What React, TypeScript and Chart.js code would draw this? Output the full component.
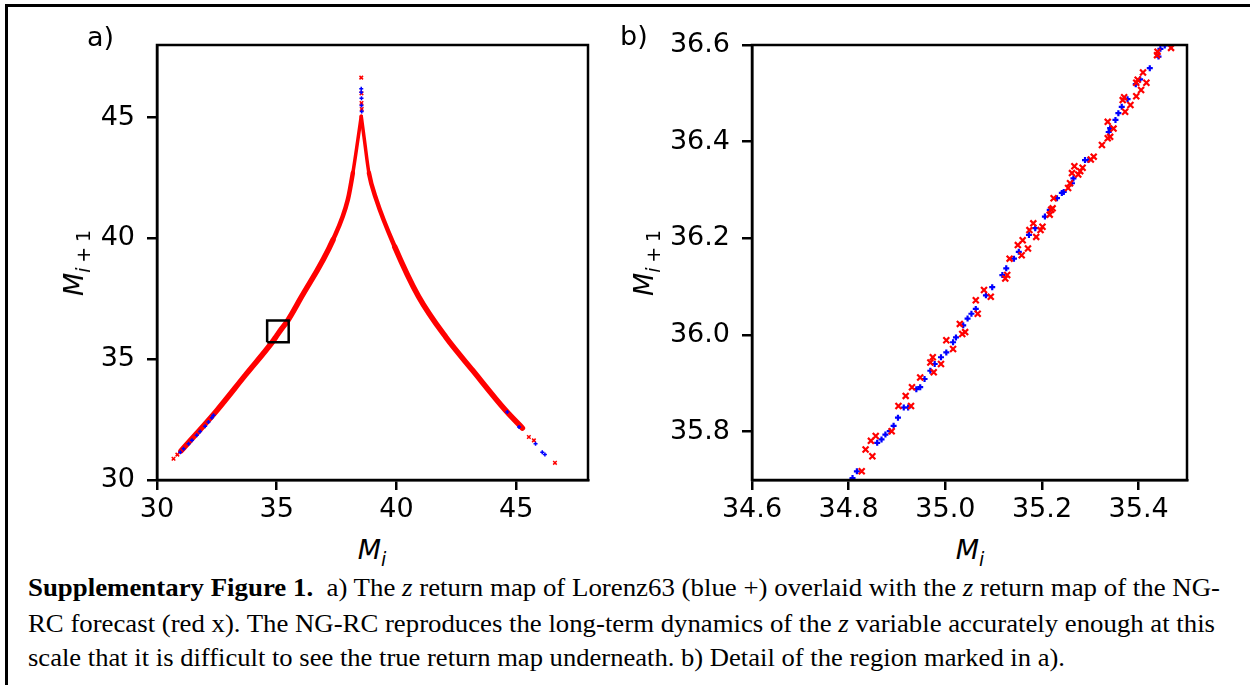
import React, { useEffect, useLayoutEffect, useRef } from "react";
import { Chart, registerables } from "chart.js";

Chart.register(...registerables);

// ---------------- Panel a data (z return map, full view) ----------------
const aXRange = [30, 48];
const aYRange = [30, 48];
const aXTicks = [30, 35, 40, 45];
const aYTicks = [30, 35, 40, 45];

// dense NG-RC forecast band (red), left and right branches
const aRedLeftX = [31.0, 32.5, 33.69, 34.81, 35.0, 35.2, 35.45, 35.96, 37.35, 37.97, 38.18, 38.39, 38.53];
const aRedLeftY = [31.2, 32.88, 34.34, 35.7, 35.97, 36.25, 36.58, 37.45, 39.94, 41.6, 42.71, 44.09, 45.05];
const aRedRightX = [38.53, 38.66, 38.85, 39.16, 39.93, 40.92, 42.07, 43.18, 44.56, 45.26];
const aRedRightY = [45.05, 44.09, 42.71, 41.6, 39.65, 37.6, 35.9, 34.54, 32.88, 32.15];
// sparse red x markers (tails and cusp tip)
const aRedDotX = [30.69, 30.85, 45.53, 45.74, 46.62, 38.53, 38.54, 38.54, 38.55];
const aRedDotY = [30.88, 31.05, 31.78, 31.64, 30.71, 46.65, 46.0, 45.6, 45.35];
// visible Lorenz63 + markers (blue)
const aBlueX = [30.97, 31.11, 31.32, 31.46, 31.66, 31.8, 32.01, 32.15, 32.29, 32.36, 44.63, 45.12, 45.81, 46.09, 46.2, 38.53, 38.53, 38.54, 38.54, 38.55];
const aBlueY = [31.15, 31.29, 31.5, 31.64, 31.85, 32.01, 32.22, 32.4, 32.58, 32.68, 32.81, 32.19, 31.5, 31.15, 31.06, 46.19, 46.05, 45.8, 45.5, 45.25];

// region shown in panel b
const boxX = [34.6, 35.5, 35.5, 34.6, 34.6];
const boxY = [35.7, 35.7, 36.6, 36.6, 35.7];

// ---------------- Panel b data (detail) ----------------
const bXRange = [34.6, 35.5];
const bYRange = [35.7, 36.6];
const bXTicks = [34.6, 34.8, 35.0, 35.2, 35.4];
const bYTicks = [35.8, 36.0, 36.2, 36.4, 36.6];

const bBlueX = [34.804, 34.808, 34.817, 34.859, 34.868, 34.876, 34.885, 34.893, 34.902, 34.914, 34.923, 34.94, 34.948, 34.957, 34.969, 34.978, 34.991, 35.002, 35.016, 35.022, 35.037, 35.046, 35.054, 35.063, 35.084, 35.097, 35.118, 35.126, 35.142, 35.152, 35.173, 35.186, 35.206, 35.216, 35.231, 35.241, 35.245, 35.262, 35.265, 35.289, 35.296, 35.338, 35.341, 35.352, 35.358, 35.365, 35.377, 35.394, 35.403, 35.423, 35.441, 35.445, 35.454];
const bBlueY = [35.697, 35.704, 35.718, 35.777, 35.784, 35.794, 35.801, 35.812, 35.829, 35.85, 35.85, 35.888, 35.892, 35.909, 35.926, 35.94, 35.954, 35.964, 35.985, 35.995, 36.02, 36.034, 36.044, 36.054, 36.082, 36.099, 36.124, 36.138, 36.158, 36.172, 36.207, 36.221, 36.245, 36.259, 36.283, 36.294, 36.296, 36.314, 36.324, 36.362, 36.362, 36.42, 36.428, 36.445, 36.459, 36.472, 36.488, 36.519, 36.529, 36.552, 36.576, 36.592, 36.599];

const bRedX = [34.827, 34.835, 34.849, 34.846, 34.856, 34.889, 34.903, 34.918, 34.929, 34.931, 34.948, 34.969, 34.974, 34.976, 34.991, 35.002, 35.016, 35.03, 35.035, 35.041, 35.063, 35.067, 35.08, 35.094, 35.124, 35.128, 35.133, 35.15, 35.158, 35.16, 35.171, 35.174, 35.182, 35.188, 35.197, 35.201, 35.216, 35.219, 35.224, 35.222, 35.254, 35.258, 35.262, 35.267, 35.275, 35.279, 35.284, 35.301, 35.307, 35.324, 35.336, 35.341, 35.336, 35.348, 35.367, 35.37, 35.372, 35.383, 35.395, 35.395, 35.398, 35.405, 35.409, 35.416, 35.438, 35.439, 35.467];
const bRedY = [35.718, 35.763, 35.749, 35.781, 35.791, 35.801, 35.853, 35.874, 35.853, 35.892, 35.912, 35.943, 35.954, 35.923, 35.94, 35.989, 35.971, 36.023, 36.002, 36.006, 36.072, 36.044, 36.093, 36.079, 36.117, 36.124, 36.158, 36.186, 36.165, 36.196, 36.179, 36.217, 36.231, 36.203, 36.217, 36.224, 36.249, 36.259, 36.283, 36.262, 36.304, 36.314, 36.335, 36.349, 36.332, 36.339, 36.346, 36.363, 36.369, 36.393, 36.407, 36.41, 36.441, 36.427, 36.486, 36.492, 36.462, 36.476, 36.494, 36.522, 36.528, 36.507, 36.543, 36.522, 36.579, 36.586, 36.594];

// ---------------- Caption ----------------
const captionWidths = [1192, 1187, 1037];

const RED = "#ff0000";
const BLUE = "#0000ff";

const pts = (xs: number[], ys: number[]) => xs.map((x, i) => ({ x, y: ys[i] }));

const framePlugin = {
  id: "frame",
  afterDatasetsDraw(chart: any) {
    const { ctx, chartArea } = chart;
    const { left, top, right, bottom } = chartArea;
    ctx.save();
    ctx.strokeStyle = "#000";
    ctx.lineWidth = 2.5;
    ctx.strokeRect(left, top, right - left, bottom - top);
    ctx.restore();
  },
};

function makeScale(axis: "x" | "y", range: number[], ticks: number[], decimals: number, fit: number, pad: number) {
  return {
    type: "linear",
    position: axis === "x" ? "bottom" : "left",
    min: range[0],
    max: range[1],
    afterBuildTicks: (s: any) => {
      s.ticks = ticks.map((v) => ({ value: v }));
    },
    afterFit: (s: any) => {
      if (axis === "x") s.height = fit;
      else s.width = fit;
    },
    grid: {
      display: true,
      drawOnChartArea: false,
      drawTicks: true,
      tickLength: 10,
      lineWidth: 2.5,
      color: "#000",
    },
    border: { display: true, color: "#000", width: 2.5 },
    ticks: {
      color: "#000",
      font: { family: "DejaVu Sans", size: 27 },
      padding: pad,
      autoSkip: false,
      maxRotation: 0,
      minRotation: 0,
      callback: (v: any) => (decimals ? Number(v).toFixed(decimals) : String(v)),
    },
  };
}

function Panel(props: {
  left: number;
  width: number;
  height: number;
  padding: any;
  datasets: any[];
  scales: any;
}) {
  const ref = useRef<HTMLCanvasElement>(null);
  useEffect(() => {
    const chart = new Chart(ref.current as HTMLCanvasElement, {
      type: "scatter",
      data: { datasets: props.datasets },
      options: {
        responsive: false,
        animation: false,
        devicePixelRatio: 1,
        events: [],
        layout: { padding: props.padding },
        plugins: { legend: { display: false }, tooltip: { enabled: false } },
        scales: props.scales,
      } as any,
      plugins: [framePlugin],
    });
    return () => chart.destroy();
  }, []);
  return (
    <canvas
      ref={ref}
      width={props.width}
      height={props.height}
      style={{ position: "absolute", left: props.left, top: 0, width: props.width, height: props.height }}
    />
  );
}

const mathFont: React.CSSProperties = { fontFamily: "DejaVu Sans", fontSize: 27, lineHeight: "27px", whiteSpace: "nowrap", color: "#000" };

function MathM(props: { sub: React.ReactNode }) {
  return (
    <span style={mathFont}>
      <i>M</i>
      <span style={{ fontSize: 19, position: "relative", top: 7 }}>{props.sub}</span>
    </span>
  );
}

// band thickness: thinner towards the cusp
const bandWidth = (ctx: any) => {
  const y = (ctx.p0.parsed.y + ctx.p1.parsed.y) / 2;
  return y > 43 ? 3.5 : y > 40 ? 4.5 : 5.5;
};

export default function App() {
  const capRefs = useRef<(HTMLSpanElement | null)[]>([]);
  useLayoutEffect(() => {
    capRefs.current.forEach((el, i) => {
      if (!el) return;
      el.style.transform = "none";
      const w = el.getBoundingClientRect().width;
      if (w > 0) el.style.transform = `scaleX(${captionWidths[i] / w})`;
    });
  }, []);

  const bandStyle = {
    showLine: true,
    borderColor: RED,
    borderWidth: 5.5,
    pointRadius: 0,
    cubicInterpolationMode: "monotone",
    borderCapStyle: "round",
    borderJoinStyle: "round",
    segment: { borderWidth: bandWidth },
    order: 3,
  };

  const aDatasets = [
    {
      label: "box",
      data: pts(boxX, boxY),
      showLine: true,
      borderColor: "#000",
      borderWidth: 2.5,
      pointRadius: 0,
      order: 0,
    },
    {
      label: "Lorenz63",
      data: pts(aBlueX, aBlueY),
      pointStyle: "cross",
      pointRadius: 2,
      borderColor: BLUE,
      backgroundColor: BLUE,
      borderWidth: 1.5,
      order: 1,
    },
    {
      label: "NG-RC dots",
      data: pts(aRedDotX, aRedDotY),
      pointStyle: "crossRot",
      pointRadius: 2.5,
      borderColor: RED,
      backgroundColor: RED,
      borderWidth: 1.5,
      order: 2,
    },
    { label: "NG-RC left", data: pts(aRedLeftX, aRedLeftY), ...bandStyle },
    { label: "NG-RC right", data: pts(aRedRightX, aRedRightY), ...bandStyle },
  ];

  const bDatasets = [
    {
      label: "NG-RC",
      data: pts(bRedX, bRedY),
      pointStyle: "crossRot",
      pointRadius: 4.2,
      borderColor: RED,
      backgroundColor: RED,
      borderWidth: 2.2,
      order: 0,
    },
    {
      label: "Lorenz63",
      data: pts(bBlueX, bBlueY),
      pointStyle: "cross",
      pointRadius: 3,
      borderColor: BLUE,
      backgroundColor: BLUE,
      borderWidth: 2.2,
      order: 1,
    },
  ];

  const aScales = {
    x: makeScale("x", aXRange, aXTicks, 0, 50, 4),
    y: makeScale("y", aYRange, aYTicks, 0, 157, 12),
  };
  const bScales = {
    x: makeScale("x", bXRange, bXTicks, 1, 50, 4),
    y: makeScale("y", bYRange, bYTicks, 1, 132, 12),
  };

  const capStyle: React.CSSProperties = {
    position: "absolute",
    left: 28,
    fontFamily: '"Liberation Serif", "Times New Roman", serif',
    fontSize: 26,
    lineHeight: "26px",
    whiteSpace: "pre",
    color: "#000",
    transformOrigin: "0 0",
    display: "inline-block",
  };

  return (
    <div style={{ position: "absolute", left: 0, top: 0, width: 1250, height: 685, background: "#fff", overflow: "hidden" }}>
      <div
        style={{
          position: "absolute",
          left: 5,
          top: 4,
          width: 1260,
          height: 700,
          borderLeft: "3px solid #000",
          borderTop: "3px solid #000",
        }}
      />
      <Panel
        left={0}
        width={620}
        height={530}
        padding={{ top: 45, right: 32, left: 0, bottom: 0 }}
        datasets={aDatasets}
        scales={aScales}
      />
      <Panel
        left={620}
        width={630}
        height={530}
        padding={{ top: 45, right: 63, left: 0, bottom: 0 }}
        datasets={bDatasets}
        scales={bScales}
      />

      {/* panel labels */}
      <div style={{ ...mathFont, position: "absolute", left: 87, top: 23 }}>a)</div>
      <div style={{ ...mathFont, position: "absolute", left: 620, top: 22 }}>b)</div>

      {/* x axis titles */}
      <div style={{ position: "absolute", left: 372, top: 536, transform: "translateX(-50%)" }}>
        <MathM sub={<i>i</i>} />
      </div>
      <div style={{ position: "absolute", left: 970, top: 536, transform: "translateX(-50%)" }}>
        <MathM sub={<i>i</i>} />
      </div>

      {/* y axis titles */}
      <div style={{ position: "absolute", left: 75, top: 263, width: 0, height: 0 }}>
        <div style={{ position: "absolute", left: 0, top: 0, transform: "translate(-50%, -50%) rotate(-90deg)" }}>
          <MathM sub={<><i>i</i>{"\u2005+\u20051"}</>} />
        </div>
      </div>
      <div style={{ position: "absolute", left: 645, top: 263, width: 0, height: 0 }}>
        <div style={{ position: "absolute", left: 0, top: 0, transform: "translate(-50%, -50%) rotate(-90deg)" }}>
          <MathM sub={<><i>i</i>{"\u2005+\u20051"}</>} />
        </div>
      </div>

      {/* caption */}
      <span ref={(el) => { capRefs.current[0] = el; }} style={{ ...capStyle, top: 575 }}>
        <b>Supplementary Figure 1.</b>
        {"  a) The "}<i>z</i>{" return map of Lorenz63 (blue +) overlaid with the "}<i>z</i>{" return map of the NG-"}
      </span>
      <span ref={(el) => { capRefs.current[1] = el; }} style={{ ...capStyle, top: 611 }}>
        {"RC forecast (red x). The NG-RC reproduces the long-term dynamics of the "}<i>z</i>{" variable accurately enough at this"}
      </span>
      <span ref={(el) => { capRefs.current[2] = el; }} style={{ ...capStyle, top: 645 }}>
        {"scale that it is difficult to see the true return map underneath. b) Detail of the region marked in a)."}
      </span>
    </div>
  );
}
